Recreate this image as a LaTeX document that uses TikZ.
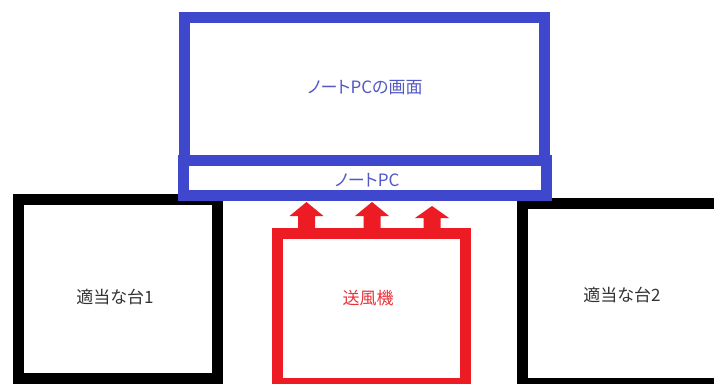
\documentclass[tikz,border=0pt]{standalone}
\usepackage{fontspec}
\newfontfamily\jp{Noto Sans CJK JP}[RawFeature=+palt]
\definecolor{pcblue}{HTML}{3F48CC}
\definecolor{pctext}{HTML}{5258C6}
\definecolor{fanred}{HTML}{ED1C24}
\definecolor{fantext}{HTML}{E8333B}
\definecolor{deftext}{HTML}{333333}
\tikzset{
  box/.style={draw, line width=11pt, inner sep=0pt, fill=none},
  lbl/.style={font=\jp\fontsize{17}{20}\selectfont, inner sep=0pt},
}
\begin{document}
\begin{tikzpicture}[x=1pt,y=-1pt]
\useasboundingbox (0,0) rectangle (714,383);
\clip (0,0) rectangle (714,383);
\fill[white] (0,0) rectangle (714,383);
% stands
\node[box, black, minimum width=199.5pt, minimum height=178.5pt] (stand1) at (117.75,288.75) {};
\node[box, black, minimum width=198pt, minimum height=180pt] (stand2) at (621.5,293.5) {};
% laptop
\node[box, pcblue, minimum width=360.5pt, minimum height=143pt] (screen) at (364.5,89) {};
\node[box, pcblue, minimum width=363pt, minimum height=35pt] (laptop) at (364.5,178) {};
% fan
\node[box, fanred, minimum width=188pt, minimum height=150pt] (fan) at (371.5,308.5) {};
% airflow arrows
\foreach \cx/\tip/\base in {306.5/202/216, 372/202/216, 432/206/218}{
  \fill[fanred] (\cx,\tip) -- (\cx+17,\base) -- (\cx+8.5,\base) -- (\cx+8.5,229)
     -- (\cx-8.5,229) -- (\cx-8.5,\base) -- (\cx-17,\base) -- cycle;
}
% labels
\node[lbl, text=pctext] (screentxt) at (365,88) {ノートPCの画面};
\node[lbl, text=pctext] (laptoptxt) at (367,180) {ノートPC};
\node[lbl, text=deftext] (stand1txt) at (115,297) {適当な台1};
\node[lbl, text=fantext] (fantxt) at (368,298) {送風機};
\node[lbl, text=deftext] (stand2txt) at (622,295) {適当な台2};
\end{tikzpicture}
\end{document}
